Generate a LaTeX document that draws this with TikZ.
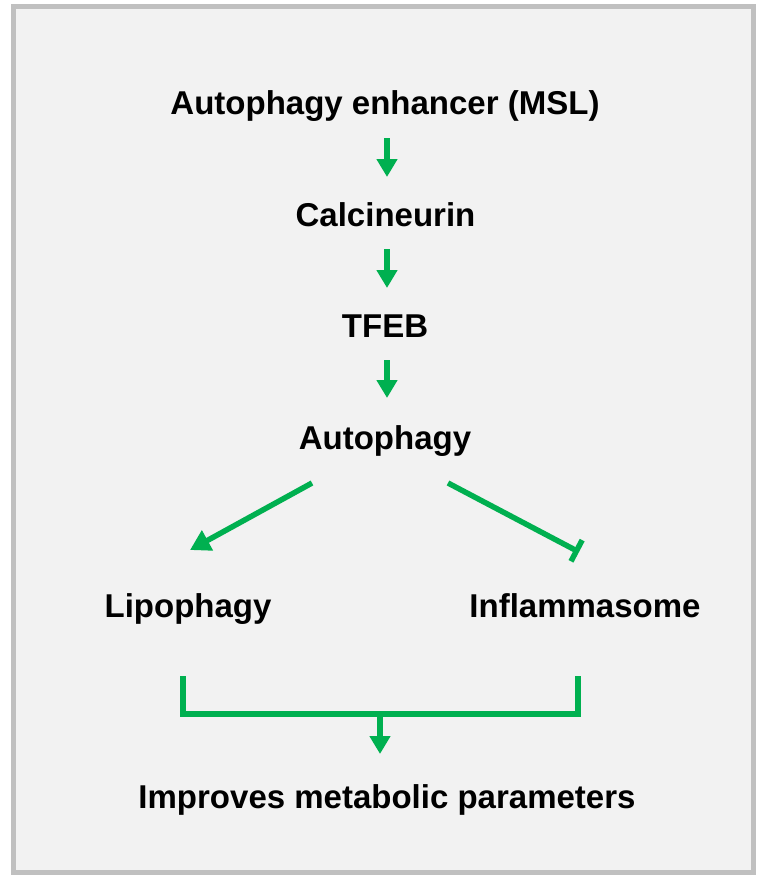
\documentclass[tikz,border=0pt]{standalone}
\usepackage{fontspec}
\setmainfont{Liberation Sans}
\usetikzlibrary{arrows.meta}
\definecolor{agreen}{HTML}{00B050}
\definecolor{frame}{HTML}{C0C0C0}
\definecolor{panel}{HTML}{F2F2F2}
\tikzset{
  lbl/.style={anchor=base, inner sep=0pt, font=\fontsize{33}{40}\selectfont\bfseries},
  varrow/.style={draw=agreen, line width=6.5pt, -{Triangle[width=20pt,length=18pt]}},
  garrow/.style={draw=agreen, line width=5.5pt, -{Triangle[width=22pt,length=20pt]}},
  ginhib/.style={draw=agreen, line width=5.5pt, -{Bar[width=24pt]}},
  gline/.style={draw=agreen, line width=5.5pt}
}
\begin{document}
\begin{tikzpicture}[x=1pt,y=-1pt]
\useasboundingbox (0,0) rectangle (765,888);
\fill[white] (0,0) rectangle (765,888);
\draw[frame, fill=panel, line width=5pt] (13.5,7) rectangle (753.5,872.5);

\node[lbl] (enh)  at (385,115) {Autophagy enhancer (MSL)};
\node[lbl] (calc) at (385.5,226) {Calcineurin};
\node[lbl] (tfeb) at (385,337) {TFEB};
\node[lbl] (auto) at (385,449.5) {Autophagy};
\node[lbl] (lipo) at (188,617) {Lipophagy};
\node[lbl] (infl) at (585,617) {Inflammasome};
\node[lbl] (impr) at (387,808) {Improves metabolic parameters};

\coordinate (a1s) at (387,138); \coordinate (a1e) at (387,177);
\coordinate (a2s) at (387,249); \coordinate (a2e) at (387,288);
\coordinate (a3s) at (387,360); \coordinate (a3e) at (387,398);
\draw[varrow] (a1s) -- (a1e);
\draw[varrow] (a2s) -- (a2e);
\draw[varrow] (a3s) -- (a3e);

\coordinate (ls) at (312,483); \coordinate (le) at (190,550);
\coordinate (rs) at (448,483); \coordinate (re) at (579,552);
\draw[garrow] (ls) -- (le);
\draw[ginhib] (rs) -- (re);

\coordinate (bl) at (183,676); \coordinate (br) at (578,676);
\coordinate (bm) at (380,714);
\draw[gline, line join=miter] (bl) -- (183,714) -- (578,714) -- (br);
\coordinate (bt) at (380,754);
\draw[varrow] (bm) -- (bt);
\end{tikzpicture}
\end{document}
